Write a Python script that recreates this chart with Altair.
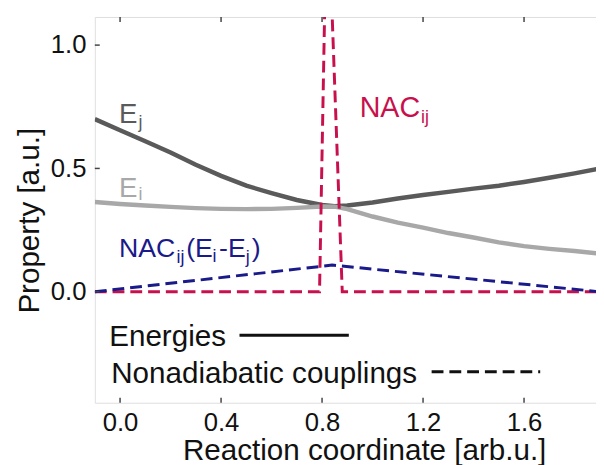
import altair as alt
import pandas as pd

# ---- data ----
x_energy = [-0.1, 0.0, 0.1, 0.2, 0.3, 0.4, 0.5, 0.6, 0.7, 0.8, 0.85, 0.9, 1.0,
            1.1, 1.2, 1.3, 1.4, 1.5, 1.6, 1.7, 1.8, 1.9]
E_j = [0.70, 0.655, 0.61, 0.565, 0.515, 0.47, 0.43, 0.40, 0.372, 0.352, 0.347, 0.35,
       0.362, 0.378, 0.392, 0.405, 0.418, 0.43, 0.445, 0.462, 0.48, 0.50]
E_i = [0.364, 0.356, 0.35, 0.344, 0.339, 0.336, 0.335, 0.336, 0.34, 0.346, 0.345, 0.335,
       0.305, 0.28, 0.26, 0.238, 0.22, 0.20, 0.185, 0.174, 0.165, 0.155]

x_nac = [-0.1, 0.79, 0.82, 0.88, 1.9]
NAC_ij = [0.0, 0.0, 1.68, 0.0, 0.0]

x_nacde = [-0.1, 0.84, 1.9]
NAC_dE = [0.0, 0.108, 0.0]

x_ticks = [0.0, 0.4, 0.8, 1.2, 1.6]
y_ticks = [0.0, 0.5, 1.0]

X_DOMAIN = [-0.1, 1.885]
Y_DOMAIN = [-0.45, 1.114]

C_EJ = "#5a5a5a"
C_EI = "#a8a8a8"
C_RED = "#c8104c"
C_BLUE = "#1a1a8a"
FONT = "Liberation Sans"

xs = alt.Scale(domain=X_DOMAIN, nice=False, zero=False)
ys = alt.Scale(domain=Y_DOMAIN, nice=False, zero=False)

df_e = pd.DataFrame({"x": x_energy, "Ej": E_j, "Ei": E_i})
df_nac = pd.DataFrame({"x": x_nac, "y": NAC_ij})
df_de = pd.DataFrame({"x": x_nacde, "y": NAC_dE})

X = alt.X("x:Q", scale=xs, axis=alt.Axis(
    values=x_ticks, format=".1f", title="Reaction coordinate [arb.u.]",
    labelFontSize=26, titleFontSize=30, labelPadding=7, titlePadding=1,
    tickSize=0, domain=False, grid=False, labelColor="#111", titleColor="#111",
    labelFont=FONT, titleFont=FONT, titleFontWeight="normal", titleX=273))
Y_AX = alt.Axis(values=y_ticks, format=".1f", title="Property [a.u.]",
                labelFontSize=26, titleFontSize=30, labelPadding=9, titlePadding=6,
                tickSize=0, domain=False, grid=False, labelColor="#111", titleColor="#111",
                labelFont=FONT, titleFont=FONT, titleFontWeight="normal", titleY=206)

ej = alt.Chart(df_e).mark_line(color=C_EJ, strokeWidth=4.5, clip=True).encode(
    x=X, y=alt.Y("Ej:Q", scale=ys, axis=Y_AX))
ei = alt.Chart(df_e).mark_line(color=C_EI, strokeWidth=4.5, clip=True).encode(
    x=alt.X("x:Q", scale=xs), y=alt.Y("Ei:Q", scale=ys))
nac = alt.Chart(df_nac).mark_line(color=C_RED, strokeWidth=3, strokeDash=[12, 6], clip=True).encode(
    x=alt.X("x:Q", scale=xs), y=alt.Y("y:Q", scale=ys))
nacde = alt.Chart(df_de).mark_line(color=C_BLUE, strokeWidth=3, strokeDash=[12, 6], clip=True).encode(
    x=alt.X("x:Q", scale=xs), y=alt.Y("y:Q", scale=ys))

# ---- text annotations (main text and subscripts) ----
main_txt = pd.DataFrame({
    "x": [-0.004, -0.004, 0.949, -0.004, 0.262, 0.392, 0.522],
    "y": [0.684, 0.384, 0.708, 0.14, 0.14, 0.14, 0.14],
    "t": ["E", "E", "NAC", "NAC", "(E", "-E", ")"],
    "c": [C_EJ, C_EI, C_RED, C_BLUE, C_BLUE, C_BLUE, C_BLUE],
    "s": [28, 28, 29, 27, 27, 27, 27],
})
sub_txt = pd.DataFrame({
    "x": [0.073, 0.073, 1.192, 0.224, 0.366, 0.498],
    "y": [0.662, 0.372, 0.684, 0.118, 0.12, 0.118],
    "t": ["j", "i", "ij", "ij", "i", "j"],
    "c": [C_EJ, C_EI, C_RED, C_BLUE, C_BLUE, C_BLUE],
})
txt_main = alt.Chart(main_txt).mark_text(align="left", baseline="alphabetic", font=FONT).encode(
    x=alt.X("x:Q", scale=xs), y=alt.Y("y:Q", scale=ys), text="t:N",
    color=alt.Color("c:N", scale=None), size=alt.Size("s:Q", scale=None))
txt_sub = alt.Chart(sub_txt).mark_text(align="left", baseline="alphabetic", font=FONT, fontSize=18).encode(
    x=alt.X("x:Q", scale=xs), y=alt.Y("y:Q", scale=ys), text="t:N",
    color=alt.Color("c:N", scale=None))

# ---- in-plot legend ----
leg_txt = pd.DataFrame({"x": [-0.043, -0.035], "y": [-0.22, -0.368],
                        "t": ["Energies", "Nonadiabatic couplings"]})
leg_text = alt.Chart(leg_txt).mark_text(align="left", baseline="alphabetic", font=FONT,
                                        fontSize=30, color="#111").encode(
    x=alt.X("x:Q", scale=xs), y=alt.Y("y:Q", scale=ys), text="t:N")
leg_solid = alt.Chart(pd.DataFrame({"x": [0.473], "x2": [0.906], "y": [-0.176]})).mark_rule(
    color="#111", strokeWidth=3).encode(x=alt.X("x:Q", scale=xs), x2="x2:Q", y=alt.Y("y:Q", scale=ys))
leg_dash = alt.Chart(pd.DataFrame({"x": [1.234], "x2": [1.664], "y": [-0.324]})).mark_rule(
    color="#111", strokeWidth=3, strokeDash=[12, 6]).encode(x=alt.X("x:Q", scale=xs), x2="x2:Q", y=alt.Y("y:Q", scale=ys))

# ---- inward ticks ----
df_xt = pd.DataFrame({"x": x_ticks})
xt_bot = alt.Chart(df_xt).mark_rule(color="#444", strokeWidth=1.5).encode(
    x=alt.X("x:Q", scale=xs), y=alt.value(391), y2=alt.value(386))
xt_top = alt.Chart(df_xt).mark_rule(color="#444", strokeWidth=1.5).encode(
    x=alt.X("x:Q", scale=xs), y=alt.value(0), y2=alt.value(5))
df_yt = pd.DataFrame({"y": y_ticks})
yt_left = alt.Chart(df_yt).mark_rule(color="#444", strokeWidth=1.5).encode(
    y=alt.Y("y:Q", scale=ys), x=alt.value(0), x2=alt.value(5))

chart = alt.layer(
    ej, ei, nac, nacde, txt_main, txt_sub, leg_text, leg_solid, leg_dash, xt_bot, xt_top, yt_left
).properties(
    width=508, height=391,
    autosize=alt.AutoSizeParams(type="none"),
    padding={"left": 88, "top": 6, "right": 0, "bottom": 60},
).configure_view(
    stroke="#444", strokeWidth=2
).configure(background="white")

chart.save("out.html", embed_options={"renderer": "svg", "actions": False})
